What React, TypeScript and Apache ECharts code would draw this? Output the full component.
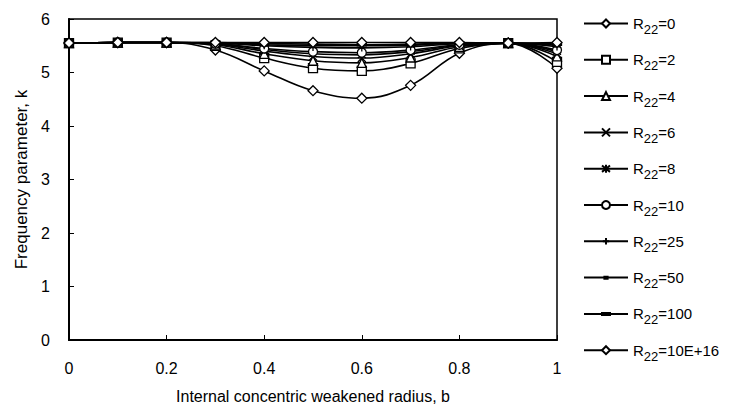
import React, { useEffect, useRef } from "react";
import * as echarts from "echarts";

const xValues = [0, 0.1, 0.2, 0.3, 0.4, 0.5, 0.6, 0.7, 0.8, 0.9, 1.0];
const seriesLabels = ["0", "2", "4", "6", "8", "10", "25", "50", "100", "10E+16"];
const r0 = [5.55, 5.56, 5.56, 5.42, 5.03, 4.66, 4.52, 4.76, 5.36, 5.55, 5.08];
const r2 = [5.55, 5.56, 5.56, 5.5, 5.27, 5.08, 5.03, 5.17, 5.45, 5.55, 5.2];
const r4 = [5.55, 5.56, 5.56, 5.52, 5.35, 5.22, 5.18, 5.28, 5.48, 5.55, 5.3];
const r6 = [5.55, 5.56, 5.56, 5.53, 5.4, 5.3, 5.27, 5.35, 5.5, 5.55, 5.35];
const r8 = [5.55, 5.56, 5.56, 5.54, 5.43, 5.35, 5.33, 5.39, 5.51, 5.55, 5.39];
const r10 = [5.55, 5.56, 5.56, 5.54, 5.45, 5.39, 5.37, 5.42, 5.52, 5.55, 5.42];
const r25 = [5.55, 5.56, 5.56, 5.55, 5.5, 5.47, 5.46, 5.48, 5.54, 5.55, 5.48];
const r50 = [5.55, 5.56, 5.56, 5.55, 5.52, 5.5, 5.5, 5.51, 5.55, 5.55, 5.51];
const r100 = [5.55, 5.56, 5.56, 5.56, 5.54, 5.53, 5.52, 5.53, 5.55, 5.55, 5.53];
const rInf = [5.55, 5.56, 5.56, 5.56, 5.56, 5.56, 5.56, 5.56, 5.56, 5.55, 5.56];
const allValues = [r0, r2, r4, r6, r8, r10, r25, r50, r100, rInf];

const symbols = [
  "diamond",
  "rect",
  "triangle",
  "path://M1,1L9,9M9,1L1,9",
  "path://M1,1L9,9M9,1L1,9M5,0L5,10",
  "circle",
  "path://M0,0M10,10M5,1L5,9M1,5L9,5",
  "path://M0,0M10,10M3,3.8L7,3.8L7,6.4L3,6.4Z",
  "path://M0,0M10,10M0,3.8L10,3.8L10,6.4L0,6.4Z",
  "diamond",
];
const symbolSizes = [10, 9, 9, 8, 8, 9, 9, 8, 9, 10];
const solidMarker = [false, false, false, false, false, false, false, true, true, false];

const FONT = "Arial, 'Liberation Sans', sans-serif";

export default function App() {
  const ref = useRef<HTMLDivElement>(null);
  useEffect(() => {
    const chart = echarts.init(ref.current!, null, { renderer: "svg" });
    const names = seriesLabels.map((l) => "R22=" + l);
    chart.setOption({
      animation: false,
      backgroundColor: "#fff",
      grid: {
        left: 69,
        right: 172,
        top: 19,
        bottom: 66,
        show: true,
        borderColor: "#000",
        borderWidth: 1.5,
        outerBoundsMode: "none",
        containLabel: false,
      },
      legend: {
        orient: "vertical",
        left: 583,
        top: 16,
        padding: 0,
        itemWidth: 44,
        itemHeight: 10,
        itemGap: 16.3,
        data: names,
        formatter: (n: string) => "{m|R}{sub|22}{m|" + n.slice(3) + "}",
        textStyle: {
          fontFamily: FONT,
          fontSize: 15,
          color: "#000",
          rich: {
            m: {
              fontFamily: FONT,
              fontSize: 15,
              lineHeight: 15,
              color: "#000",
              verticalAlign: "top",
            },
            sub: {
              fontFamily: FONT,
              fontSize: 13,
              lineHeight: 13,
              color: "#000",
              verticalAlign: "top",
              padding: [7, 0, 0, 0],
            },
          },
        },
      },
      xAxis: {
        type: "value",
        min: 0,
        max: 1,
        interval: 0.2,
        name: "Internal concentric weakened radius, b",
        nameLocation: "middle",
        nameGap: 48,
        nameTextStyle: { fontFamily: FONT, fontSize: 16, color: "#000" },
        axisLine: { lineStyle: { color: "#000", width: 2 } },
        axisTick: { inside: true, length: 5, lineStyle: { color: "#000" } },
        axisLabel: {
          fontFamily: FONT,
          fontSize: 16,
          color: "#000",
          margin: 20,
          formatter: (v: number) => String(Math.round(v * 10) / 10),
        },
        splitLine: { show: false },
      },
      yAxis: {
        type: "value",
        min: 0,
        max: 6,
        interval: 1,
        name: "Frequency parameter, k",
        nameLocation: "middle",
        nameGap: 37,
        nameTextStyle: { fontFamily: FONT, fontSize: 17, color: "#000" },
        axisLine: { show: true, lineStyle: { color: "#000", width: 2 } },
        axisTick: { show: true, inside: true, length: 5, lineStyle: { color: "#000" } },
        axisLabel: { fontFamily: FONT, fontSize: 16, color: "#000", margin: 19 },
        splitLine: { show: false },
      },
      series: allValues.map((vals, i) => ({
        name: names[i],
        type: "line",
        smooth: 0.4,
        data: xValues.map((x, j) => [x, vals[j]]),
        symbol: symbols[i],
        symbolSize: symbolSizes[i],
        showAllSymbol: true,
        lineStyle: { color: "#000", width: 1.6 },
        itemStyle: {
          color: solidMarker[i] ? "#000" : "#fff",
          borderColor: "#000",
          borderWidth: 1.3,
        },
        z: 2 + i,
      })),
    });
    return () => chart.dispose();
  }, []);
  return <div ref={ref} style={{ width: 729, height: 406, position: "absolute", left: 0, top: 0 }} />;
}
